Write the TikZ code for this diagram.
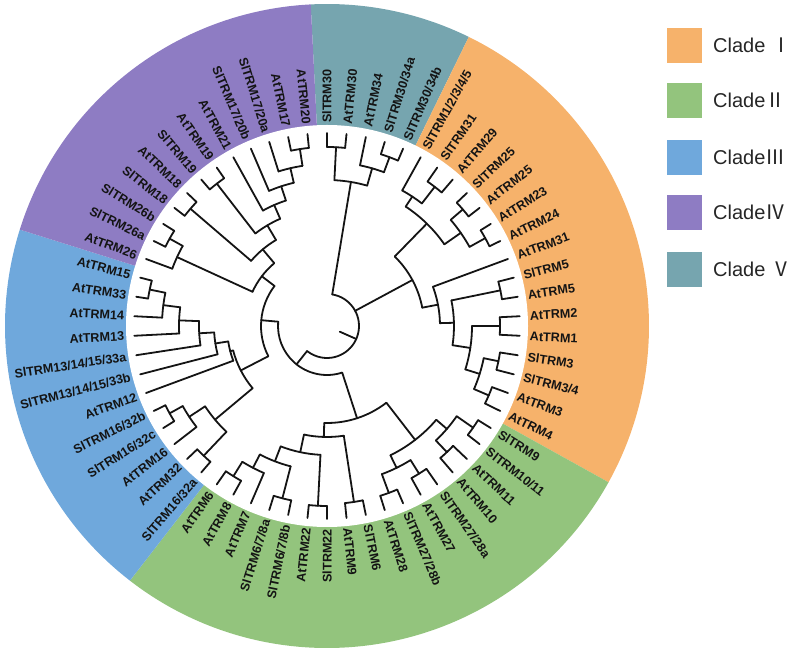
\documentclass[tikz,border=0pt]{standalone}
\usepackage{fontspec}
\setmainfont{Liberation Sans}
\newfontfamily\cjkfont{Noto Sans CJK SC}
\definecolor{cI}{HTML}{F6B26B}
\definecolor{cII}{HTML}{93C47D}
\definecolor{cIII}{HTML}{6FA8DC}
\definecolor{cIV}{HTML}{8E7CC3}
\definecolor{cV}{HTML}{76A5AF}
\newcommand\ix[1]{\csname ix@#1\endcsname}
% name, idxA, idxB, radius, parent radius
\newcommand\trnode[5]{%
  \pgfmathsetmacro\ndA{90-(#2)*5.806452}%
  \pgfmathsetmacro\ndB{90-(#3)*5.806452}%
  \pgfmathsetmacro\ndM{((#2)+(#3))/2}%
  \expandafter\xdef\csname ix@#1\endcsname{\ndM}%
  \pgfmathsetmacro\ndP{90-\ndM*5.806452}%
  \draw[br] (\ndP:#5pt) -- (\ndP:#4pt);
  \draw[br] (\ndA:#4pt) arc[start angle=\ndA, end angle=\ndB, radius=#4pt];
}
% leaf index, parent radius
\newcommand\trleaf[2]{%
  \pgfmathsetmacro\lfA{90-(#1)*5.806452}%
  \draw[br] (\lfA:#2pt) -- (\lfA:193pt);
}
\begin{document}
\begin{tikzpicture}[x=1pt,y=1pt,
  br/.style={line width=1.8pt, line cap=round, line join=round, black!92},
  lab/.style={font=\bfseries\fontsize{12.6}{13}\selectfont, inner sep=0pt, text=black!92},
  sq/.style={minimum size=35pt, inner sep=0pt, draw=none},
  leg/.style={font=\fontsize{20}{22}\selectfont, inner sep=0pt, anchor=west, text=black!85}]
\useasboundingbox (0,0) rectangle (800,653);
\coordinate (C) at (327,327);
\begin{scope}[shift={(C)}]
  \fill[cV]   (0,0) -- (92.90:322pt) arc[start angle=92.90, end angle=63.87, radius=322pt] -- cycle;
  \fill[cI]   (0,0) -- (63.87:322pt) arc[start angle=63.87, end angle=-29.03, radius=322pt] -- cycle;
  \fill[cII]  (0,0) -- (-29.03:322pt) arc[start angle=-29.03, end angle=-127.74, radius=322pt] -- cycle;
  \fill[cIII] (0,0) -- (-127.74:322pt) arc[start angle=-127.74, end angle=-197.42, radius=322pt] -- cycle;
  \fill[cIV]  (0,0) -- (-197.42:322pt) arc[start angle=-197.42, end angle=-267.10, radius=322pt] -- cycle;
  \fill[white] (0,0) circle[radius=201pt];

  % ---- clade V
  \trnode{p01}{0}{1}{179}{146}
  \trnode{p34}{3}{4}{180}{164}
  \trnode{n234}{2}{\ix{p34}}{164}{146}
  \trnode{V}{\ix{p01}}{\ix{n234}}{146}{32}
  \trleaf{0}{179}\trleaf{1}{179}\trleaf{2}{164}\trleaf{3}{180}\trleaf{4}{180}
  % ---- clade I
  \trnode{p67}{6}{7}{176}{155}
  \trnode{n5}{5}{\ix{p67}}{155}{143}
  \trnode{p89}{8}{9}{179}{163}
  \trnode{p1011}{10}{11}{181}{163}
  \trnode{n811}{\ix{p89}}{\ix{p1011}}{163}{143}
  \trnode{UpI}{\ix{n5}}{\ix{n811}}{143}{97}
  \trnode{p1314}{13}{14}{177}{127}
  \trnode{p1516}{15}{16}{173}{145}
  \trnode{p1718}{17}{18}{175}{160}
  \trnode{p1920}{19}{20}{176}{160}
  \trnode{p1720}{\ix{p1718}}{\ix{p1920}}{160}{145}
  \trnode{N1520}{\ix{p1516}}{\ix{p1720}}{145}{127}
  \trnode{N1320}{\ix{p1314}}{\ix{N1520}}{127}{113}
  \trnode{LowI}{12}{\ix{N1320}}{113}{97}
  \trnode{I}{\ix{UpI}}{\ix{LowI}}{97}{32}
  \trleaf{5}{155}\trleaf{6}{176}\trleaf{7}{176}\trleaf{8}{179}\trleaf{9}{179}
  \trleaf{10}{181}\trleaf{11}{181}\trleaf{12}{113}\trleaf{13}{177}\trleaf{14}{177}
  \trleaf{15}{173}\trleaf{16}{173}\trleaf{17}{175}\trleaf{18}{175}\trleaf{19}{176}\trleaf{20}{176}
  % ---- clade II
  \trnode{p2122}{21}{22}{178}{158}
  \trnode{p2324}{23}{24}{174}{158}
  \trnode{IIzA}{\ix{p2122}}{\ix{p2324}}{158}{144}
  \trnode{p2526}{25}{26}{174}{158}
  \trnode{p2728}{27}{28}{178}{158}
  \trnode{IIzB}{\ix{p2526}}{\ix{p2728}}{158}{144}
  \trnode{IIz}{\ix{IIzA}}{\ix{IIzB}}{144}{97}
  \trnode{p2930}{29}{30}{178}{111}
  \trnode{p3132}{31}{32}{180}{129}
  \trnode{p3334}{33}{34}{178}{145}
  \trnode{p3637}{36}{37}{177}{160}
  \trnode{n35}{35}{\ix{p3637}}{160}{145}
  \trnode{IIc}{\ix{p3334}}{\ix{n35}}{145}{129}
  \trnode{IIb}{\ix{p3132}}{\ix{IIc}}{129}{111}
  \trnode{IIa}{\ix{p2930}}{\ix{IIb}}{111}{97}
  \trnode{II}{\ix{IIz}}{\ix{IIa}}{97}{49}
  \trleaf{21}{178}\trleaf{22}{178}\trleaf{23}{174}\trleaf{24}{174}\trleaf{25}{174}\trleaf{26}{174}
  \trleaf{27}{178}\trleaf{28}{178}\trleaf{29}{178}\trleaf{30}{178}\trleaf{31}{180}\trleaf{32}{180}
  \trleaf{33}{178}\trleaf{34}{178}\trleaf{35}{160}\trleaf{36}{177}\trleaf{37}{177}
  % ---- clade III
  \trnode{p3839}{38}{39}{179}{146}
  \trnode{p4142}{41}{42}{180}{165}
  \trnode{n40}{40}{\ix{p4142}}{165}{146}
  \trnode{L3}{\ix{p3839}}{\ix{n40}}{146}{97}
  \trnode{p4849}{48}{49}{181}{165}
  \trnode{n47}{47}{\ix{p4849}}{165}{148}
  \trnode{n46}{46}{\ix{n47}}{148}{128}
  \trnode{n45}{45}{\ix{n46}}{128}{113}
  \trnode{n44}{44}{\ix{n45}}{113}{100}
  \trnode{U}{43}{\ix{n44}}{100}{97}
  \trnode{III}{\ix{L3}}{\ix{U}}{97}{66}
  \trleaf{38}{179}\trleaf{39}{179}\trleaf{40}{165}\trleaf{41}{180}\trleaf{42}{180}
  \trleaf{43}{100}\trleaf{44}{113}\trleaf{45}{128}\trleaf{46}{148}\trleaf{47}{165}
  \trleaf{48}{181}\trleaf{49}{181}
  % ---- clade IV
  \trnode{p5152}{51}{52}{180}{165}
  \trnode{A4}{50}{\ix{p5152}}{165}{82}
  \trnode{p5354}{53}{54}{180}{100}
  \trnode{p5556}{55}{56}{180}{117}
  \trnode{p6061}{60}{61}{179}{162}
  \trnode{F4}{59}{\ix{p6061}}{162}{147}
  \trnode{E4}{58}{\ix{F4}}{147}{132}
  \trnode{D4}{57}{\ix{E4}}{132}{117}
  \trnode{C4}{\ix{p5556}}{\ix{D4}}{117}{100}
  \trnode{B4}{\ix{p5354}}{\ix{C4}}{100}{82}
  \trnode{IV}{\ix{A4}}{\ix{B4}}{82}{66}
  \trleaf{50}{165}\trleaf{51}{180}\trleaf{52}{180}\trleaf{53}{180}\trleaf{54}{180}
  \trleaf{55}{180}\trleaf{56}{180}\trleaf{57}{132}\trleaf{58}{147}\trleaf{59}{162}
  \trleaf{60}{179}\trleaf{61}{179}
  % ---- backbone
  \trnode{Y}{\ix{III}}{\ix{IV}}{66}{49}
  \trnode{X}{\ix{II}}{\ix{Y}}{49}{32}
  \trnode{Root}{\ix{V}}{\ix{X}}{32}{14}

  % ---- labels
  \foreach \i/\t in {0/{SlTRM30},1/{AtTRM30},2/{AtTRM34},3/{SlTRM30/34a},4/{SlTRM30/34b},
    5/{SlTRM1/2/3/4/5},6/{SlTRM31},7/{AtTRM29},8/{SlTRM25},9/{AtTRM25},10/{AtTRM23},
    11/{AtTRM24},12/{AtTRM31},13/{SlTRM5},14/{AtTRM5},15/{AtTRM2},16/{AtTRM1},17/{SlTRM3},
    18/{SlTRM3/4},19/{AtTRM3},20/{AtTRM4},21/{SlTRM9},22/{SlTRM10/11},23/{AtTRM11},
    24/{AtTRM10},25/{SlTRM27/28a},26/{AtTRM27},27/{SlTRM27/28b},28/{AtTRM28},29/{SlTRM6},
    30/{AtTRM9},31/{SlTRM22},32/{AtTRM22},33/{SlTRM6/7/8b},34/{SlTRM6/7/8a},35/{AtTRM7},
    36/{AtTRM8},37/{AtTRM6},38/{SlTRM16/32a},39/{AtTRM32},40/{AtTRM16},41/{SlTRM16/32c},
    42/{SlTRM16/32b},43/{AtTRM12},44/{SlTRM13/14/15/33b},45/{SlTRM13/14/15/33a},
    46/{AtTRM13},47/{AtTRM14},48/{AtTRM33},49/{AtTRM15},50/{AtTRM26},51/{SlTRM26a},
    52/{SlTRM26b},53/{SlTRM18},54/{AtTRM18},55/{SlTRM19},56/{AtTRM19},57/{AtTRM21},
    58/{SlTRM17/20b},59/{SlTRM17/20a},60/{AtTRM17},61/{AtTRM20}}{
    \pgfmathsetmacro\a{90-\i*5.806452}
    \ifnum\i<31
      \node[lab,rotate=\a,anchor=west] (l\i) at (\a:203pt) {\t};
    \else
      \pgfmathsetmacro\b{\a+180}
      \node[lab,rotate=\b,anchor=east] (l\i) at (\a:203pt) {\t};
    \fi
  }
\end{scope}

% ---- legend
\node[sq,fill=cI]   (s1) at (684.5,607.5) {};
\node[sq,fill=cII]  (s2) at (684.5,552.5) {};
\node[sq,fill=cIII] (s3) at (684.5,495.5) {};
\node[sq,fill=cIV]  (s4) at (684.5,440.5) {};
\node[sq,fill=cV]   (s5) at (684.5,383.5) {};
\node[leg] (t1) at (713,607.5) {Clade {\cjkfont Ⅰ}};
\node[leg] (t2) at (713,552.5) {Clade{\cjkfont Ⅱ}};
\node[leg] (t3) at (713,495.5) {Clade{\cjkfont Ⅲ}};
\node[leg] (t4) at (713,440.5) {Clade{\cjkfont Ⅳ}};
\node[leg] (t5) at (713,383.5) {Clade {\cjkfont Ⅴ}};
\end{tikzpicture}
\end{document}
